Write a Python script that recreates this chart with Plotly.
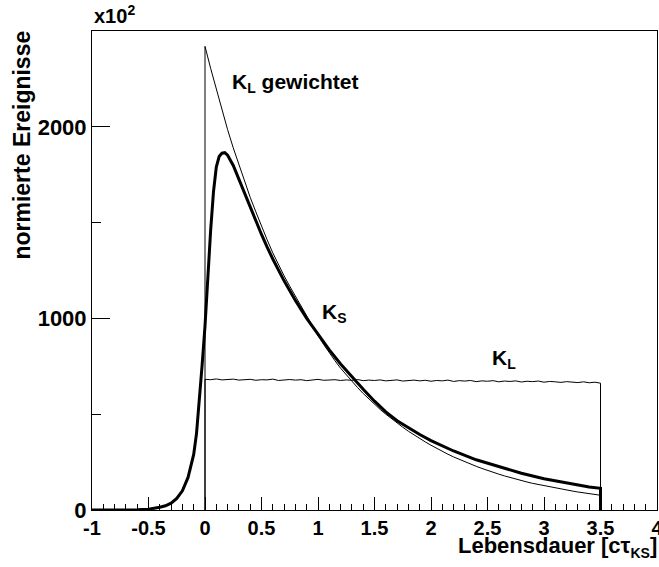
import numpy as np
import plotly.graph_objects as go

# ---- data -----------------------------------------------------------------
# K_S: measured decay-time distribution (resolution smeared)
ks_t = [-1.0, -0.8, -0.6, -0.5, -0.45, -0.4, -0.35, -0.3, -0.25, -0.2, -0.15,
        -0.1, -0.075, -0.05, -0.025, 0.0, 0.025, 0.05, 0.075, 0.1, 0.125, 0.15,
        0.175, 0.2, 0.25, 0.3, 0.35, 0.4, 0.45, 0.5, 0.55, 0.6, 0.7, 0.8, 0.9,
        1.0, 1.1, 1.2, 1.3, 1.4, 1.5, 1.6, 1.7, 1.8, 1.9, 2.0, 2.2, 2.4, 2.6,
        2.8, 3.0, 3.2, 3.4, 3.5]
ks_n = [0, 0, 1, 4, 8, 14, 22, 36, 60, 100, 170,
        290, 400, 560, 760, 960, 1230, 1460, 1660, 1790, 1845, 1862,
        1865, 1852, 1798, 1725, 1652, 1580, 1508, 1438, 1372, 1310, 1196, 1094, 1000,
        915, 836, 762, 694, 630, 568, 512, 466, 428, 394, 362, 308, 262, 225,
        192, 163, 140, 120, 113]

# K_L: bin contents in steps of 0.05 from 0 to 3.5
kl_step = 0.05
kl_n = [682, 680, 684, 679, 681, 683, 678, 680, 682, 677,
        680, 679, 683, 676, 679, 681, 678, 680, 675, 679,
        682, 677, 678, 680, 676, 679, 677, 681, 675, 678,
        676, 679, 674, 677, 679, 673, 676, 678, 674, 677,
        672, 676, 674, 678, 671, 675, 673, 676, 670, 674,
        672, 675, 669, 673, 671, 674, 668, 672, 670, 673,
        667, 671, 669, 666, 670, 668, 665, 669, 664, 667, 662]

# K_L weighted with the K_S decay, same binning
klw_n = [2420, 2305, 2195, 2090, 1985, 1890, 1800, 1714, 1632, 1556,
         1480, 1410, 1342, 1280, 1222, 1168, 1115, 1062, 1010, 958,
         910, 864, 820, 779, 740, 705, 671, 639, 608, 579,
         551, 525, 500, 476, 453, 432, 411, 391, 372, 355,
         338, 321, 306, 291, 277, 264, 251, 239, 228, 217,
         206, 196, 187, 178, 169, 161, 154, 146, 139, 133,
         126, 120, 114, 109, 104, 99, 94, 89, 85, 81, 77]

y_ticks = [0, 1000, 2000]
x_ticks = [-1, -0.5, 0, 0.5, 1, 1.5, 2, 2.5, 3, 3.5, 4]
x_tick_text = ["-1", "-0.5", "0", "0.5", "1", "1.5", "2", "2.5", "3", "3.5", "4"]

# ---- helpers ----------------------------------------------------------------
kl_t = list(np.round(np.arange(len(kl_n)) * kl_step, 3))


def closed(t, n):
    """Histogram outline with vertical edges down to zero at both ends."""
    return [t[0]] + list(t) + [t[-1]], [0] + list(n) + [0]


FONT = "Liberation Sans, Arial, sans-serif"

fig = go.Figure()

x, y = closed(kl_t, klw_n)
fig.add_trace(go.Scatter(x=x, y=y, mode="lines",
                         line=dict(color="black", width=1)))
x, y = closed(kl_t, kl_n)
fig.add_trace(go.Scatter(x=x, y=y, mode="lines",
                         line=dict(color="black", width=1)))
fig.add_trace(go.Scatter(x=ks_t + [ks_t[-1]], y=ks_n + [0], mode="lines",
                         line=dict(color="black", width=3)))

x_tick_font = dict(family=FONT, size=20, color="black", weight="bold")
y_tick_font = dict(family=FONT, size=22, color="black", weight="bold")

fig.update_xaxes(range=[-1, 4], showline=True, linecolor="black", linewidth=1,
                 mirror=True, ticks="inside", ticklen=13, tickcolor="black",
                 tickvals=x_ticks, ticktext=x_tick_text, tickfont=x_tick_font,
                 minor=dict(dtick=0.1, ticks="inside", ticklen=6, tickcolor="black"),
                 showgrid=False, zeroline=False, ticklabeloverflow="allow",
                 automargin=False)
fig.update_yaxes(range=[0, 2500], showline=True, linecolor="black", linewidth=1,
                 mirror=True, ticks="inside", ticklen=18, tickcolor="black",
                 tickvals=y_ticks, tickfont=y_tick_font,
                 minor=dict(dtick=500, ticks="inside", ticklen=9, tickcolor="black"),
                 showgrid=False, zeroline=False, automargin=False)

sub = "<sub><span style='font-size:14px'>%s</span></sub>"


def font(size):
    return dict(family=FONT, size=size, color="black", weight="bold")


annotations = [
    dict(text="K" + sub % "L" + " gewichtet", x=0.225, y=2229, font=font(21),
         xref="x", yref="y", xanchor="left", yanchor="middle"),
    dict(text="K" + sub % "S", x=1.018, y=1030, font=font(21),
         xref="x", yref="y", xanchor="left", yanchor="middle"),
    dict(text="K" + sub % "L", x=2.52, y=786, font=font(21),
         xref="x", yref="y", xanchor="left", yanchor="middle"),
    dict(text="Lebensdauer [c\u03c4" + sub % "KS" + "]", x=0.644, y=-0.078,
         font=font(22), xref="paper", yref="paper", xanchor="left", yanchor="middle"),
    dict(text="normierte Ereignisse", x=-0.124, y=1.006, textangle=-90,
         font=font(23), xref="paper", yref="paper", xanchor="center", yanchor="top"),
    dict(text="x10<sup>2</sup>", x=0.0, y=1.004, font=font(20),
         xref="paper", yref="paper", xanchor="left", yanchor="bottom"),
]
for a in annotations:
    fig.add_annotation(showarrow=False, **a)

fig.update_layout(width=659, height=567, autosize=False,
                  margin=dict(l=92, r=2, t=31, b=57),
                  paper_bgcolor="white", plot_bgcolor="white",
                  showlegend=False)

fig.write_html("out.html")
